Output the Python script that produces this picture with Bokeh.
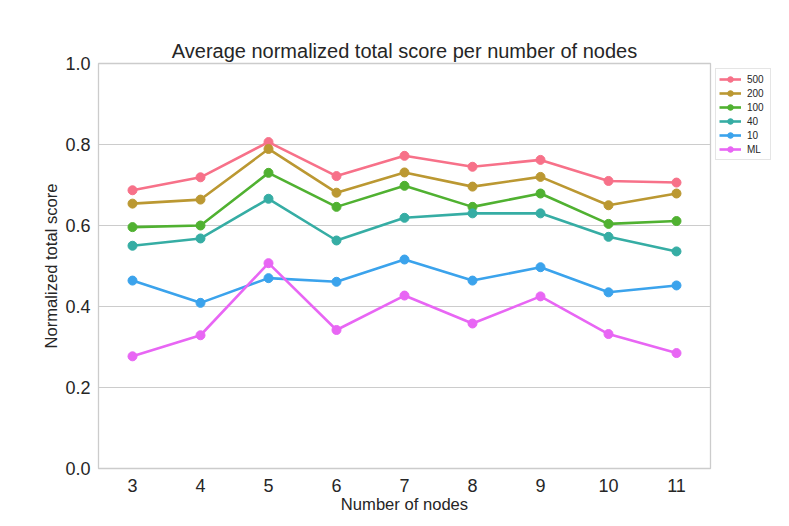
from bokeh.plotting import figure
from bokeh.models import Legend, LegendItem, FixedTicker, Range1d, PrintfTickFormatter
from bokeh.embed import file_html
from bokeh.resources import INLINE

nodes = [3, 4, 5, 6, 7, 8, 9, 10, 11]
s500 = [0.687, 0.719, 0.806, 0.722, 0.772, 0.745, 0.762, 0.710, 0.706]
s200 = [0.654, 0.664, 0.789, 0.681, 0.731, 0.696, 0.720, 0.650, 0.679]
s100 = [0.596, 0.600, 0.730, 0.646, 0.698, 0.646, 0.679, 0.604, 0.611]
s40 = [0.550, 0.568, 0.666, 0.563, 0.619, 0.630, 0.630, 0.572, 0.536]
s10 = [0.464, 0.409, 0.470, 0.461, 0.516, 0.464, 0.497, 0.435, 0.452]
sML = [0.277, 0.329, 0.507, 0.342, 0.427, 0.358, 0.425, 0.332, 0.285]
labels = ["500", "200", "100", "40", "10", "ML"]
colors = ["#f77189", "#bb9832", "#50b131", "#36ada4", "#3ba3ec", "#e866f4"]
series = [s500, s200, s100, s40, s10, sML]
yticks = [0.0, 0.2, 0.4, 0.6, 0.8, 1.0]

FONT = "Liberation Sans"
TXT = "#262626"

p = figure(frame_width=612, frame_height=405, output_backend="svg", toolbar_location=None,
           x_range=Range1d(2.5, 11.5), y_range=Range1d(0.0, 1.0),
           min_border_left=98, min_border_top=63, min_border_bottom=50, min_border_right=10)

p.title.text = "Average normalized total score per number of nodes"
p.title.align = "center"
p.title.text_font = FONT
p.title.text_font_size = "20px"
p.title.text_font_style = "normal"
p.title.text_color = TXT
p.title.standoff = 3

p.outline_line_color = "#cccccc"
p.outline_line_width = 1.3
p.xgrid.grid_line_color = None
p.ygrid.grid_line_color = "#cccccc"
p.ygrid.grid_line_width = 1.2

for ax in (p.xaxis, p.yaxis):
    ax.axis_line_color = None
    ax.major_tick_line_color = None
    ax.minor_tick_line_color = None
    ax.major_tick_out = 0
    ax.major_tick_in = 0
    ax.major_label_text_font = FONT
    ax.major_label_text_font_size = "18px"
    ax.major_label_text_color = TXT
    ax.axis_label_text_font = FONT
    ax.axis_label_text_font_size = "16.6px"
    ax.axis_label_text_font_style = "normal"
    ax.axis_label_text_color = TXT

p.xaxis.ticker = FixedTicker(ticks=nodes)
p.yaxis.ticker = FixedTicker(ticks=yticks)
p.yaxis.formatter = PrintfTickFormatter(format="%.1f")
p.xaxis.axis_label = "Number of nodes"
p.yaxis.axis_label = "Normalized total score"
p.xaxis.major_label_standoff = 10
p.yaxis.major_label_standoff = 8
p.xaxis.axis_label_standoff = 0
p.yaxis.axis_label_standoff = 1

items = []
for lab, col, ys in zip(labels, colors, series):
    l = p.line(nodes, ys, line_color=col, line_width=2.6)
    c = p.scatter(nodes, ys, size=9, fill_color=col, line_color=col)
    items.append(LegendItem(label=lab, renderers=[l, c]))

legend = Legend(items=items, location="top_left")
legend.label_text_font = FONT
legend.label_text_font_size = "10px"
legend.label_text_color = TXT
legend.glyph_height = 14
legend.glyph_width = 22
legend.label_height = 12
legend.label_standoff = 6
legend.spacing = 0
legend.padding = 3
legend.margin = 5
legend.border_line_color = "#cccccc"
legend.border_line_width = 1
legend.background_fill_color = "white"
p.add_layout(legend, "right")

open("out.html", "w").write(file_html(p, INLINE))
